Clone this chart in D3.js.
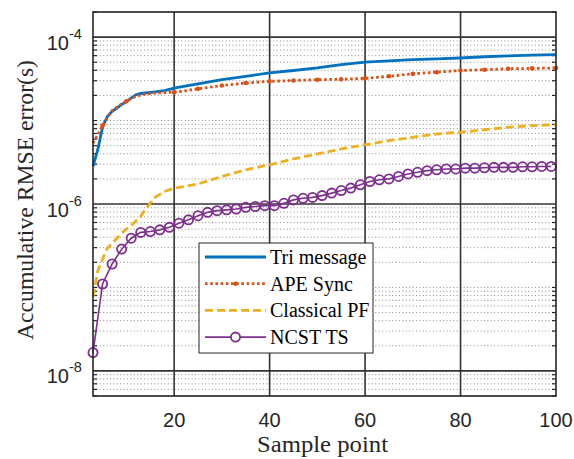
<!DOCTYPE html>
<html>
<head>
<meta charset="utf-8">
<script src="https://cdn.jsdelivr.net/npm/d3@7"></script>
<style>
  body { margin: 0; background: #fff; }
  svg { display: block; }
</style>
</head>
<body>
<div id="chart"></div>
<script>
// chart size and plot box
const svgWidth = 574;
const svgHeight = 459;
const margin = { top: 12, right: 18, bottom: 63, left: 93 };
const width = svgWidth - margin.left - margin.right;
const height = svgHeight - margin.top - margin.bottom;

// data
const samples = [3, 4, 5, 6, 7, 8, 9, 10, 11, 12, 13, 14, 16, 18, 20, 22, 25, 30, 35, 40, 45, 50, 55, 60, 65, 70, 75, 80, 85, 90, 95, 100];
const triMessage = [2.82e-6, 4.47e-6, 8.32e-6, 1.12e-5, 1.29e-5, 1.41e-5, 1.55e-5, 1.70e-5, 1.86e-5, 2.04e-5, 2.11e-5, 2.14e-5, 2.21e-5, 2.29e-5, 2.45e-5, 2.57e-5, 2.75e-5, 3.09e-5, 3.39e-5, 3.72e-5, 3.98e-5, 4.27e-5, 4.68e-5, 5.01e-5, 5.19e-5, 5.37e-5, 5.50e-5, 5.62e-5, 5.82e-5, 5.96e-5, 6.10e-5, 6.17e-5];
const apeSync = [5.37e-6, 6.76e-6, 8.71e-6, 1.07e-5, 1.32e-5, 1.45e-5, 1.58e-5, 1.70e-5, 1.84e-5, 1.95e-5, 2.02e-5, 2.07e-5, 2.14e-5, 2.16e-5, 2.19e-5, 2.26e-5, 2.40e-5, 2.63e-5, 2.82e-5, 2.95e-5, 3.02e-5, 3.09e-5, 3.13e-5, 3.20e-5, 3.39e-5, 3.63e-5, 3.80e-5, 3.98e-5, 4.07e-5, 4.17e-5, 4.22e-5, 4.27e-5];
const classicalPF = [7.76e-8, 1.58e-7, 2.19e-7, 2.95e-7, 3.39e-7, 3.89e-7, 4.47e-7, 5.01e-7, 5.50e-7, 6.31e-7, 7.08e-7, 8.71e-7, 1.20e-6, 1.41e-6, 1.55e-6, 1.62e-6, 1.74e-6, 2.14e-6, 2.57e-6, 2.95e-6, 3.47e-6, 3.98e-6, 4.57e-6, 5.13e-6, 5.75e-6, 6.31e-6, 6.92e-6, 7.24e-6, 7.76e-6, 8.32e-6, 8.71e-6, 8.91e-6];
// NCST TS only has a marker every other sample
const ncstSamples = [3, 5, 7, 9, 11, 13, 15, 17, 19, 21, 23, 25, 27, 29, 31, 33, 35, 37, 39, 41, 43, 45, 47, 49, 51, 53, 55, 57, 59, 61, 63, 65, 67, 69, 71, 73, 75, 77, 79, 81, 83, 85, 87, 89, 91, 93, 95, 97, 99];
const ncstTS = [1.66e-8, 1.10e-7, 1.91e-7, 2.88e-7, 3.89e-7, 4.57e-7, 4.68e-7, 4.90e-7, 5.25e-7, 5.89e-7, 6.46e-7, 7.24e-7, 7.94e-7, 8.32e-7, 8.51e-7, 8.71e-7, 9.12e-7, 9.33e-7, 9.55e-7, 9.55e-7, 1.02e-6, 1.12e-6, 1.17e-6, 1.20e-6, 1.26e-6, 1.35e-6, 1.45e-6, 1.55e-6, 1.70e-6, 1.86e-6, 1.95e-6, 2.00e-6, 2.14e-6, 2.29e-6, 2.40e-6, 2.51e-6, 2.57e-6, 2.63e-6, 2.63e-6, 2.69e-6, 2.69e-6, 2.72e-6, 2.75e-6, 2.75e-6, 2.75e-6, 2.79e-6, 2.79e-6, 2.82e-6, 2.82e-6];

const xTicks = [20, 40, 60, 80, 100];
const yTickExps = [-4, -6, -8];
const seriesNames = ["Tri message", "APE Sync", "Classical PF", "NCST TS"];

const serifFont = "'Liberation Serif', 'DejaVu Serif', serif";
const sansFont = "'Liberation Sans', Arial, sans-serif";
const axisColor = "#262626";

const svg = d3.select("#chart")
    .append("svg")
    .attr("width", svgWidth)
    .attr("height", svgHeight);

const g = svg.append("g")
    .attr("transform", `translate(${margin.left},${margin.top})`);

// scales
const x = d3.scaleLinear().domain([3, 100]).range([0, width]);
const y = d3.scaleLog().domain([5e-9, 2e-4]).range([height, 0]);

// minor grid (dotted) at every 1..9 x 10^n that isn't a labelled decade
let minorVals = [];
for (let e = -9; e <= -4; e++) {
    for (let k = 1; k <= 9; k++) {
        const v = k * Math.pow(10, e);
        if (v < 5e-9 || v > 2e-4) continue;
        if (k === 1 && yTickExps.includes(e)) continue;
        minorVals.push(v);
    }
}

g.append("g").selectAll("line")
    .data(minorVals)
    .enter().append("line")
    .attr("x1", 0).attr("x2", width)
    .attr("y1", d => y(d)).attr("y2", d => y(d))
    .attr("stroke", "#8c8c8c")
    .attr("stroke-width", 1)
    .attr("stroke-dasharray", "1,2.4");

// major grid, solid and dark
g.append("g").selectAll("line")
    .data(yTickExps)
    .enter().append("line")
    .attr("x1", 0).attr("x2", width)
    .attr("y1", d => y(Math.pow(10, d))).attr("y2", d => y(Math.pow(10, d)))
    .attr("stroke", "#333")
    .attr("stroke-width", 1.6);

g.append("g").selectAll("line")
    .data(xTicks.slice(0, -1))
    .enter().append("line")
    .attr("x1", d => x(d)).attr("x2", d => x(d))
    .attr("y1", 0).attr("y2", height)
    .attr("stroke", "#333")
    .attr("stroke-width", 1.6);

// minor ticks pointing inwards, both sides
const tickG = g.append("g");
minorVals.forEach(v => {
    tickG.append("line").attr("x1", 0).attr("x2", 4)
        .attr("y1", y(v)).attr("y2", y(v))
        .attr("stroke", axisColor).attr("stroke-width", 1.2);
    tickG.append("line").attr("x1", width - 4).attr("x2", width)
        .attr("y1", y(v)).attr("y2", y(v))
        .attr("stroke", axisColor).attr("stroke-width", 1.2);
});

// clip lines to the plot box
svg.append("defs").append("clipPath")
    .attr("id", "plotClip")
    .append("rect")
    .attr("x", -6).attr("y", 0)
    .attr("width", width + 12).attr("height", height);

const plot = g.append("g").attr("clip-path", "url(#plotClip)");

const line = d3.line()
    .x(d => x(d[0]))
    .y(d => y(d[1]));

const triData = samples.map((s, i) => [s, triMessage[i]]);
const apeData = samples.map((s, i) => [s, apeSync[i]]);
const pfData = samples.map((s, i) => [s, classicalPF[i]]);
const ncstData = ncstSamples.map((s, i) => [s, ncstTS[i]]);

const styles = [
    { color: "#0072BD", width: 2.8, dash: null },
    { color: "#D95319", width: 2.8, dash: "2.6,2.6" },
    { color: "#EDB120", width: 2.8, dash: "8,4" },
    { color: "#7E2F8E", width: 1.6, dash: null }
];

[triData, apeData, pfData, ncstData].forEach((data, i) => {
    plot.append("path")
        .datum(data)
        .attr("d", line)
        .attr("fill", "none")
        .attr("stroke", styles[i].color)
        .attr("stroke-width", styles[i].width)
        .attr("stroke-dasharray", styles[i].dash);
});

// small point markers on APE Sync
plot.selectAll(".apeDot")
    .data(apeData.filter(d => d[0] % 5 === 0))
    .enter().append("circle")
    .attr("cx", d => x(d[0]))
    .attr("cy", d => y(d[1]))
    .attr("r", 2.3)
    .attr("fill", "#D95319");

// circle markers on NCST TS
plot.selectAll(".ncstMarker")
    .data(ncstData)
    .enter().append("circle")
    .attr("cx", d => x(d[0]))
    .attr("cy", d => y(d[1]))
    .attr("r", 4.6)
    .attr("fill", "none")
    .attr("stroke", "#7E2F8E")
    .attr("stroke-width", 1.8);

// axis box
g.append("rect")
    .attr("x", 0).attr("y", 0)
    .attr("width", width).attr("height", height)
    .attr("fill", "none")
    .attr("stroke", axisColor)
    .attr("stroke-width", 1.6);

// x tick labels
g.append("g").selectAll("text")
    .data(xTicks)
    .enter().append("text")
    .attr("x", d => x(d))
    .attr("y", height + 31)
    .attr("text-anchor", "middle")
    .attr("font-family", sansFont)
    .attr("font-size", 20)
    .attr("fill", axisColor)
    .text(d => d);

// y tick labels as 10^n
const yLab = g.append("g").selectAll("g")
    .data(yTickExps)
    .enter().append("g");
yLab.append("text")
    .attr("x", -24)
    .attr("y", d => y(Math.pow(10, d)) + 12.5)
    .attr("text-anchor", "end")
    .attr("font-family", sansFont)
    .attr("font-size", 20)
    .attr("fill", axisColor)
    .text("10");
yLab.append("text")
    .attr("x", -24)
    .attr("y", d => y(Math.pow(10, d)) + 1.5)
    .attr("text-anchor", "start")
    .attr("font-family", sansFont)
    .attr("font-size", 14.5)
    .attr("fill", axisColor)
    .text(d => d);

// axis titles
svg.append("text")
    .attr("transform", `translate(33,${margin.top + height / 2 - 4}) rotate(-90)`)
    .attr("text-anchor", "middle")
    .attr("font-family", serifFont)
    .attr("font-size", 23)
    .attr("textLength", 280)
    .attr("lengthAdjust", "spacingAndGlyphs")
    .attr("fill", axisColor)
    .text("Accumulative RMSE error(s)");

svg.append("text")
    .attr("x", 322.5)
    .attr("y", 452)
    .attr("text-anchor", "middle")
    .attr("font-family", serifFont)
    .attr("font-size", 23)
    .attr("textLength", 131)
    .attr("lengthAdjust", "spacingAndGlyphs")
    .attr("fill", axisColor)
    .text("Sample point");

// legend
const legend = svg.append("g").attr("transform", "translate(199,243)");
legend.append("rect")
    .attr("width", 174).attr("height", 110)
    .attr("fill", "#fff")
    .attr("stroke", axisColor)
    .attr("stroke-width", 1);

seriesNames.forEach((name, i) => {
    const rowY = 14 + i * 26.7;
    legend.append("line")
        .attr("x1", 6).attr("x2", 67)
        .attr("y1", rowY).attr("y2", rowY)
        .attr("stroke", styles[i].color)
        .attr("stroke-width", styles[i].width)
        .attr("stroke-dasharray", styles[i].dash);
    if (i === 1) {
        legend.append("circle").attr("cx", 36.5).attr("cy", rowY).attr("r", 2.3)
            .attr("fill", styles[i].color);
    }
    if (i === 3) {
        legend.append("circle").attr("cx", 36.5).attr("cy", rowY).attr("r", 4.6)
            .attr("fill", "#fff")
            .attr("stroke", styles[i].color)
            .attr("stroke-width", 1.8);
    }
    legend.append("text")
        .attr("x", 71)
        .attr("y", rowY + 7)
        .attr("font-family", serifFont)
        .attr("font-size", 20)
        .attr("fill", "#000")
        .text(name);
});
</script>
</body>
</html>
